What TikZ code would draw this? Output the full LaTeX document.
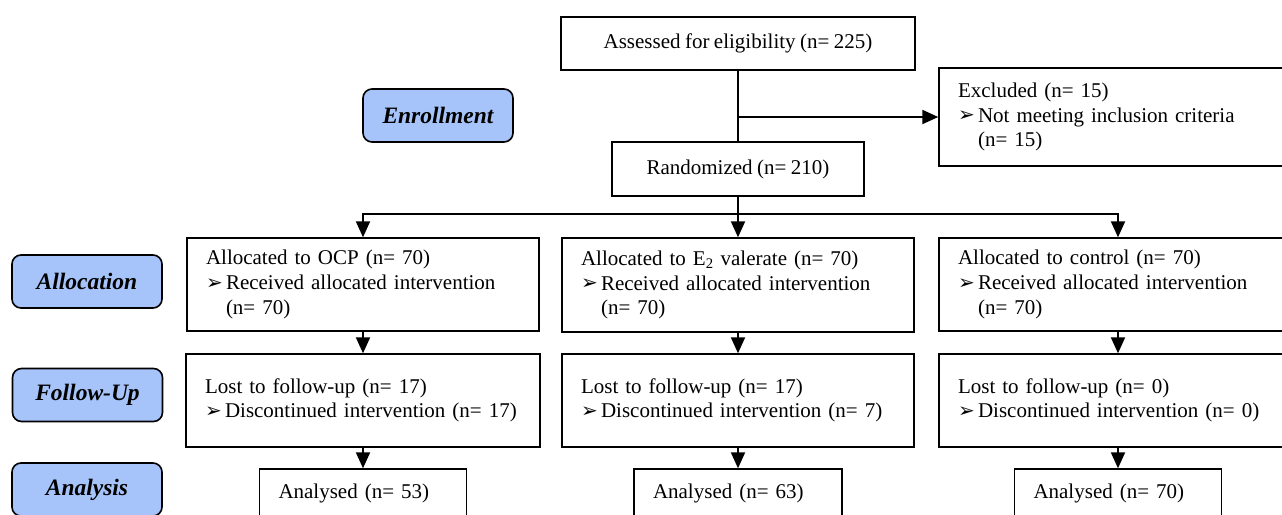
\documentclass[tikz,border=0pt]{standalone}
\usepackage{fontspec}
\setmainfont[WordSpace=0.85]{Liberation Serif}
\newfontfamily\dingfont{DejaVu Sans}
\usetikzlibrary{arrows.meta}

\definecolor{stageblue}{RGB}{166,196,250}
\newcommand{\bul}{\makebox[20pt][l]{\raisebox{0.5pt}{\dingfont\fontsize{20}{20}\selectfont ➢}}}
\newcommand{\bulpad}{\hspace*{20pt}}

\tikzset{
  box/.style={draw, line width=1.4pt, inner xsep=19pt, inner ysep=0pt,
              font=\fontsize{21}{24.6}\selectfont},
  lbox/.style={box, align=left},
  cbox/.style={box, align=center},
  stage/.style={draw, line width=1.6pt, rounded corners=9pt, fill=stageblue,
                minimum width=150pt, minimum height=53pt,
                font=\fontsize{23.5}{28}\selectfont\bfseries\itshape},
  line/.style={line width=2pt},
  arrow/.style={line width=2pt, -{Triangle[width=14pt,length=16pt]}}
}

\begin{document}
\begin{tikzpicture}[x=1pt,y=-1pt]

%\draw[help lines,step=50] (0,0) grid (1282,514);
\useasboundingbox (0,0) rectangle (1282,514);
\clip (0,0) rectangle (1282,514);

% stage labels
\node[stage] (enrolst) at (438,115.5) {Enrollment};
\node[stage] (allocst) at (87,281.5) {Allocation};
\node[stage] (followst) at (87.5,395) {Follow-Up};
\node[stage] (analst) at (87,489.5) {Analysis};

% enrollment
\node[cbox, minimum width=354pt, minimum height=53pt] (assess) at (738,43.5) {Assessed for eligibility (n= 225)};
\node[lbox, text width=320pt, minimum height=98pt] (excl) at (1118,117)
     {Excluded (n= 15)\\ \bul Not meeting inclusion criteria\\ \bulpad(n= 15)};
\node[cbox, minimum width=252pt, minimum height=54pt] (random) at (738,169) {Randomized (n= 210)};

% allocation
\node[lbox, text width=314pt, minimum height=93pt] (alloc1) at (363,284.5)
     {Allocated to OCP (n= 70)\\ \bul Received allocated intervention\\ \bulpad(n= 70)};
\node[lbox, text width=314pt, minimum height=94pt] (alloc2) at (738,285)
     {Allocated to E\textsubscript{2} valerate (n= 70)\\ \bul Received allocated intervention\\ \bulpad(n= 70)};
\node[lbox, text width=320pt, minimum height=93pt] (alloc3) at (1118,284.5)
     {Allocated to control (n= 70)\\ \bul Received allocated intervention\\ \bulpad(n= 70)};

% follow-up
\node[lbox, text width=316pt, minimum height=93pt] (follow1) at (363,400.5)
     {Lost to follow-up (n= 17)\\ \bul Discontinued intervention (n= 17)};
\node[lbox, text width=314pt, minimum height=93pt] (follow2) at (738,400.5)
     {Lost to follow-up (n= 17)\\ \bul Discontinued intervention (n= 7)};
\node[lbox, text width=320pt, minimum height=93pt] (follow3) at (1118,400.5)
     {Lost to follow-up (n= 0)\\ \bul Discontinued intervention (n= 0)};

% analysis
\node[lbox, text width=169pt, minimum height=48pt] (anal1) at (363,493) {Analysed (n= 53)};
\node[lbox, text width=170pt, minimum height=48pt] (anal2) at (738,493) {Analysed (n= 63)};
\node[lbox, text width=169pt, minimum height=48pt] (anal3) at (1118,493) {Analysed (n= 70)};

% connectors
\draw[line] (assess) -- (random);
\draw[arrow] (assess.south |- excl.west) -- (excl.west); % to excluded
\coordinate (split) at (738,214);
\draw[line] (random.south) -- (split);
\draw[arrow] (split) -| (alloc1.north);
\draw[arrow] (split) -- (alloc2.north);
\draw[arrow] (split) -| (alloc3.north);

\draw[arrow] (alloc1) -- (follow1);
\draw[arrow] (alloc2) -- (follow2);
\draw[arrow] (alloc3) -- (follow3);

\draw[arrow] (follow1) -- (anal1);
\draw[arrow] (follow2) -- (anal2);
\draw[arrow] (follow3) -- (anal3);

\end{tikzpicture}
\end{document}
